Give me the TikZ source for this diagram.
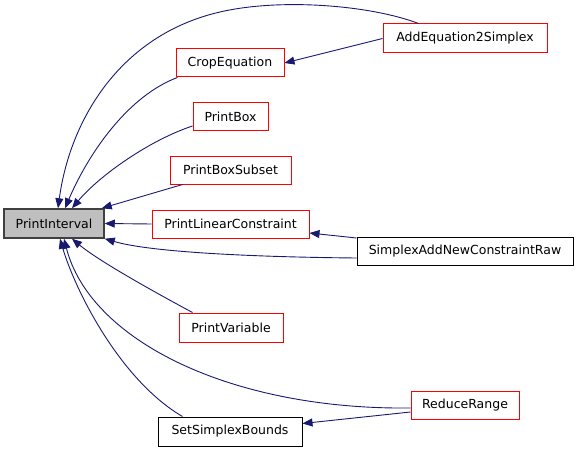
\documentclass[tikz,border=0pt]{standalone}
\usepackage{fontspec}
\setmainfont{DejaVu Sans}
\usetikzlibrary{arrows.meta}
\definecolor{edgeblue}{HTML}{191970}
\definecolor{boxred}{HTML}{FF0000}
\definecolor{boxgray}{HTML}{BFBFBF}
\begin{document}
\begin{tikzpicture}[x=1pt,y=-1pt,
  base/.style={draw, line width=1pt, inner sep=0pt, font=\fontsize{12.5}{14}\selectfont, text=black},
  redbox/.style={base, draw=boxred},
  blackbox/.style={base, draw=black},
  focusbox/.style={base, draw=black!75, fill=boxgray, line width=1.5pt},
  edge/.style={draw=edgeblue, line width=0.9pt, -{Triangle[length=10pt,width=8pt]}}]
\useasboundingbox (0,0) rectangle (579,452);
\node[focusbox, minimum width=100pt, minimum height=29pt] (pi) at (54,223.5) {PrintInterval};
\node[redbox, minimum width=164pt, minimum height=29pt] (addeq) at (465,38.5) {AddEquation2Simplex};
\node[redbox, minimum width=108pt, minimum height=28pt] (crop) at (230,63) {CropEquation};
\node[redbox, minimum width=75pt, minimum height=28pt] (pbox) at (230.5,117) {PrintBox};
\node[redbox, minimum width=121pt, minimum height=28pt] (pbs) at (230.5,170) {PrintBoxSubset};
\node[redbox, minimum width=157pt, minimum height=28pt] (plc) at (230.5,224) {PrintLinearConstraint};
\node[blackbox, minimum width=216pt, minimum height=28pt] (sanc) at (465,251) {SimplexAddNewConstraintRaw};
\node[redbox, minimum width=104pt, minimum height=29pt] (pvar) at (231,327.5) {PrintVariable};
\node[redbox, minimum width=108pt, minimum height=28pt] (rr) at (465,405) {ReduceRange};
\node[blackbox, minimum width=144pt, minimum height=29pt] (ssb) at (230,431.5) {SetSimplexBounds};

\draw[edge] ([xshift=36pt]addeq.north west) .. controls (370,5) and (280,-2) .. (220,12)
  .. controls (120,35) and (70,120) .. ([xshift=4pt]pi.north);
\draw[edge] (addeq.west) -- (crop.east);
\draw[edge] ([xshift=2pt]crop.south west) .. controls (130,95) and (90,150) .. ([xshift=11pt]pi.north);
\draw[edge] ([yshift=-9pt]pbox.west) .. controls (150,140) and (100,175) .. ([xshift=18pt]pi.north);
\draw[edge] ([xshift=13pt]pbs.south west) -- ([xshift=-3pt]pi.north east);
\draw[edge] (plc.west) -- (pi.east);
\draw[edge] ([yshift=13pt]sanc.west) -- ([yshift=-9pt]plc.east);
\draw[edge] ([yshift=-7pt]sanc.west) .. controls (250,257) and (150,252) .. (pi.south east);
\draw[edge] ([xshift=14pt]pvar.north west) .. controls (160,295) and (100,262) .. ([xshift=18pt]pi.south);
\draw[edge] ([yshift=-3pt]rr.west) .. controls (230,410) and (90,340) .. ([xshift=10pt]pi.south);
\draw[edge] ([xshift=25pt]ssb.north west) .. controls (120,380) and (75,290) .. ([xshift=6pt]pi.south);
\draw[edge] ([yshift=-7pt]rr.west) -- ([yshift=8pt]ssb.east);
\end{tikzpicture}
\end{document}
